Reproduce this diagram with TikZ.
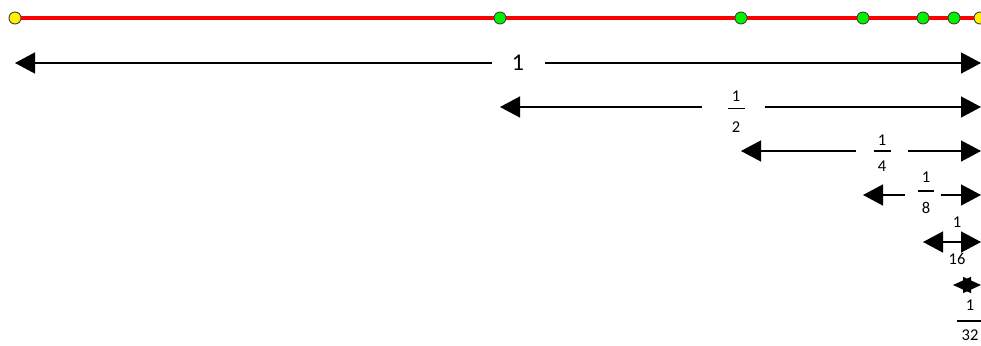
\documentclass[tikz,border=0pt]{standalone}
\usepackage{fontspec}
\setmainfont{Carlito}
\usetikzlibrary{arrows.meta}
\tikzset{
  redline/.style={draw=red, line width=4pt},
  ydot/.style={circle, draw=black!75, line width=0.9pt, fill=yellow, minimum size=12pt, inner sep=0pt},
  gdot/.style={circle, draw=black!75, line width=0.9pt, fill=green!95!black, minimum size=12pt, inner sep=0pt},
  dimline/.style={draw=black, line width=1.4pt},
  ltip/.style={dimline, {Triangle[length=20pt,width=21pt]}-},
  rtip/.style={dimline, -{Triangle[length=20pt,width=21pt]}},
  bothtip/.style={dimline, {Triangle[length=20pt,width=21pt]}-{Triangle[length=20pt,width=21pt]}},
  smalltip/.style={dimline, {Triangle[length=18pt,width=16pt]}-{Triangle[length=18pt,width=16pt]}},
  bigtxt/.style={inner sep=0pt, font=\fontsize{24}{28}\selectfont},
  fractxt/.style={inner sep=0pt, font=\fontsize{16.5}{19}\selectfont},
  fbar/.style={draw=black, line width=1.2pt}
}
\begin{document}
\begin{tikzpicture}[x=1pt,y=-1pt]
\useasboundingbox (0,0) rectangle (981,345);
% top red line with points
\coordinate (p0) at (15,18);
\coordinate (p6) at (980,18);
\draw[redline] (p0) -- (p6);
\node[ydot] (d0) at (15,18) {};
\node[gdot] (d1) at (500,18) {};
\node[gdot] (d2) at (741,18) {};
\node[gdot] (d3) at (863,18) {};
\node[gdot] (d4) at (923,18) {};
\node[gdot] (d5) at (954,18) {};
\node[ydot] (d6) at (980,18) {};

% arrow 1
\coordinate (a1L) at (15,63);
\coordinate (a1R) at (981,63);
\coordinate (a1g) at (492,63);
\coordinate (a1h) at (545,63);
\draw[ltip] (a1L) -- (a1g);
\draw[rtip] (a1h) -- (a1R);
\node[bigtxt] (t1) at (518,63) {1};

% arrow 1/2
\coordinate (a2L) at (500,107);
\coordinate (a2R) at (981,107);
\coordinate (a2g) at (702,107);
\coordinate (a2h) at (765,107);
\draw[ltip] (a2L) -- (a2g);
\draw[rtip] (a2h) -- (a2R);
\node[fractxt] (n2) at (736,96) {1};
\node[fractxt] (m2) at (736,127) {2};
\coordinate (b2l) at (728,108.5);
\coordinate (b2r) at (745,108.5);
\draw[fbar] (b2l) -- (b2r);

% arrow 1/4
\coordinate (a3L) at (741,151);
\coordinate (a3R) at (981,151);
\coordinate (a3g) at (856,151);
\coordinate (a3h) at (908,151);
\draw[ltip] (a3L) -- (a3g);
\draw[rtip] (a3h) -- (a3R);
\node[fractxt] (n3) at (882,140) {1};
\node[fractxt] (m3) at (882,166) {4};
\coordinate (b3l) at (874,151);
\coordinate (b3r) at (891,151);
\draw[fbar] (b3l) -- (b3r);

% arrow 1/8
\coordinate (a4L) at (863,195);
\coordinate (a4R) at (981,195);
\coordinate (a4g) at (905,195);
\coordinate (a4h) at (941,195);
\draw[ltip] (a4L) -- (a4g);
\draw[rtip] (a4h) -- (a4R);
\node[fractxt] (n4) at (926,177) {1};
\node[fractxt] (m4) at (926,208) {8};
\coordinate (b4l) at (918,191);
\coordinate (b4r) at (934,191);
\draw[fbar] (b4l) -- (b4r);

% arrow 1/16
\coordinate (a5L) at (923,242);
\coordinate (a5R) at (981,242);
\draw[bothtip] (a5L) -- (a5R);
\node[fractxt] (n5) at (957,222) {1};
\node[fractxt] (m5) at (957,259) {16};

% arrow 1/32
\coordinate (a6L) at (953,285);
\coordinate (a6R) at (981,285);
\draw[smalltip] (a6L) -- (a6R);
\node[fractxt] (n6) at (970,305) {1};
\node[fractxt] (m6) at (970,335.5) {32};
\coordinate (b6l) at (957,321);
\coordinate (b6r) at (983,321);
\draw[fbar] (b6l) -- (b6r);
\end{tikzpicture}
\end{document}
